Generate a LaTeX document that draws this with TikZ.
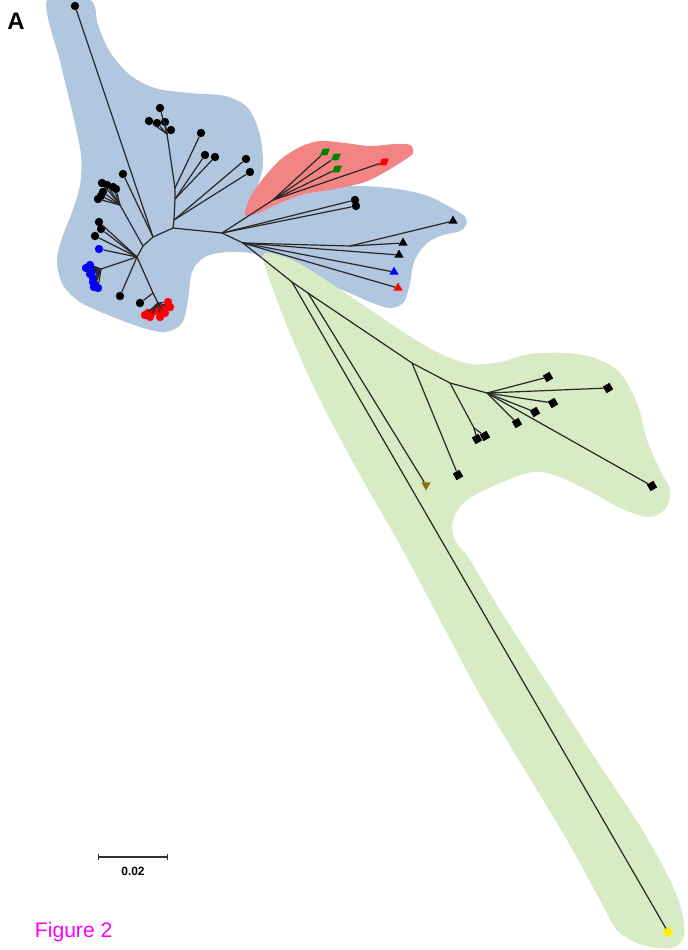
\documentclass[tikz,border=0pt]{standalone}
\usepackage{fontspec}
\setmainfont{Liberation Sans}
\usetikzlibrary{positioning, arrows.meta, shapes.geometric}
\definecolor{hullblue}{RGB}{177,198,223}
\definecolor{hullred}{RGB}{243,132,132}
\definecolor{hullgreen}{RGB}{215,235,196}
\definecolor{leafgreen}{RGB}{0,130,0}
\definecolor{leafolive}{RGB}{130,120,0}
\definecolor{leafyellow}{RGB}{255,240,0}
\definecolor{figmagenta}{RGB}{250,0,250}
\tikzset{
    branch/.style={line width=0.85pt, color=black!85},
    leafdot/.style={circle, fill=#1, inner sep=0pt, minimum size=0.21cm},
    leafdot/.default=black,
    leaftri/.style={regular polygon, regular polygon sides=3, fill=#1, inner sep=0pt, minimum size=0.27cm},
    leaftri/.default=black,
    leafsq/.style={rectangle, fill=#1, inner sep=0pt, minimum size=0.19cm, rotate=30},
    leafsq/.default=black,
    leafdia/.style={diamond, fill=#1, inner sep=0pt, minimum width=0.31cm, minimum height=0.2cm, rotate=35},
    hub/.style={coordinate},
    scalebar/.style={{Bar[width=4pt]}-{Bar[width=4pt]}, line width=0.8pt, color=black!80}
}

\begin{document}
\begin{tikzpicture}[x=0.025cm, y=-0.025cm]
    \useasboundingbox (0,0) rectangle (688,950);

    % clade hulls
    \fill[hullblue] plot[smooth cycle, tension=0.55] coordinates {
        (47,0) (90,0) (98,25) (110,52) (130,75) (155,88) (190,93) (225,96)
        (248,108) (260,135) (263,165) (260,192) (300,190) (350,186) (390,188)
        (425,195) (450,207) (466,218) (462,230) (440,236) (425,245) (414,262)
        (410,283) (404,302) (390,308) (370,302) (345,291) (315,280) (283,267)
        (255,254) (228,252) (205,257) (192,272) (188,300) (182,323) (165,332)
        (140,327) (108,315) (80,302) (63,285) (57,262) (62,238) (72,212)
        (80,185) (81,155) (73,115) (61,65)};
    \fill[hullred] plot[smooth cycle, tension=0.55] coordinates {
        (245,215) (250,198) (262,180) (280,160) (300,147) (320,141) (345,143)
        (370,146) (395,144) (410,145) (413,153) (403,161) (385,172) (365,182)
        (335,189) (305,194) (280,203) (258,213)};
    \fill[hullgreen] plot[smooth cycle, tension=0.55] coordinates {
        (263,257) (274,254) (300,264) (350,296) (400,330) (437,352) (470,364)
        (500,362) (530,354) (565,353) (595,358) (620,373) (637,403) (647,440)
        (660,470) (670,490) (666,508) (650,517) (625,510) (593,493) (560,477)
        (533,472) (500,483) (467,500) (453,520) (455,540) (470,560) (500,610)
        (547,683) (593,755) (640,826) (670,880) (682,912) (684,935) (675,947)
        (658,948) (637,943) (617,930) (600,900) (567,840) (523,767) (480,695)
        (440,620) (400,545) (360,475) (320,400) (295,345) (275,295)};

    % inner nodes
    \node[hub] (h1) at (137,257) {};
    \node[hub] (h1a) at (143,246) {};
    \node[hub] (h2) at (153,237) {};
    \node[hub] (h3) at (173,228) {};
    \node[hub] (h4) at (222,233) {};
    \node[hub] (j1) at (174,220) {};
    \node[hub] (u2) at (175,199) {};
    \node[hub] (u3) at (175,188) {};
    \node[hub] (u4) at (167,134) {};
    \node[hub] (c1) at (120,205) {};
    \node[hub] (b1) at (101,269) {};
    \node[hub] (r0) at (153,293) {};
    \node[hub] (r1) at (158,303) {};
    \node[hub] (rc) at (273,200) {};
    \node[hub] (R1) at (243,243) {};
    \node[hub] (R2) at (350,246) {};
    \node[hub] (G1) at (292,282) {};
    \node[hub] (G2) at (308,293) {};
    \node[hub] (G3) at (412,363) {};
    \node[hub] (G4) at (450,383) {};
    \node[hub] (G4b) at (474,428) {};
    \node[hub] (G5) at (487,393) {};

    % leaves, blue clade
    \node[leafdot] (tl) at (75,6) {};
    \node[leafdot] (ua) at (160,108) {};
    \node[leafdot] (ub) at (149,121) {};
    \node[leafdot] (uc) at (157,123) {};
    \node[leafdot] (ud) at (165,122) {};
    \node[leafdot] (ue) at (171,130) {};
    \node[leafdot] (uf) at (201,133) {};
    \node[leafdot] (ug) at (205,155) {};
    \node[leafdot] (uh) at (215,157) {};
    \node[leafdot] (ui) at (246,159) {};
    \node[leafdot] (uj) at (250,172) {};
    \node[leafdot] (sa) at (123,174) {};
    \foreach \x/\y [count=\i] in {102/183, 107/185, 113/187, 116/189, 103/192, 101/196, 98/199}
        \node[leafdot] (k\i) at (\x,\y) {};
    \node[leafdot] (la) at (99,222) {};
    \node[leafdot] (lb) at (101,229) {};
    \node[leafdot] (lc) at (95,236) {};
    \node[leafdot=blue] (lblue) at (99,249) {};
    \node[leafdot] (ld) at (120,296) {};
    \node[leafdot] (le) at (140,303) {};
    \foreach \x/\y [count=\i] in {86/268, 90/265, 94/270, 90/274, 93/278, 93/282, 95/285, 98/288, 94/287}
        \node[leafdot=blue] (bc\i) at (\x,\y) {};
    \foreach \x/\y [count=\i] in {148/313, 153/312, 158/310, 163/308, 168/302, 170/307, 165/313, 160/317, 150/317, 145/315}
        \node[leafdot=red] (rd\i) at (\x,\y) {};
    \node[leafdot] (dd1) at (355,200) {};
    \node[leafdot] (dd2) at (356,206) {};
    \node[leaftri] (t1) at (453,221) {};
    \node[leaftri] (t2) at (403,243) {};
    \node[leaftri] (t3) at (399,255) {};
    \node[leaftri=blue] (tb) at (394,272) {};
    \node[leaftri=red] (tr) at (398,288) {};

    % leaves, red clade
    \node[leafdia=leafgreen] (ga) at (325,152) {};
    \node[leafdia=leafgreen] (gb) at (336,157) {};
    \node[leafdia=leafgreen] (gc) at (337,169) {};
    \node[leafdia=red] (rd) at (384,162) {};

    % leaves, green clade
    \node[leafsq=leafyellow] (ye) at (668,932) {};
    \node[leaftri=leafolive, shape border rotate=180] (ol) at (426,485) {};
    \node[leafsq] (s1) at (458,475) {};
    \node[leafsq] (s2) at (477,439) {};
    \node[leafsq] (s3) at (485,436) {};
    \node[leafsq] (s4) at (548,377) {};
    \node[leafsq] (s5) at (608,388) {};
    \node[leafsq] (s6) at (553,403) {};
    \node[leafsq] (s7) at (535,412) {};
    \node[leafsq] (s8) at (517,423) {};
    \node[leafsq] (s9) at (652,486) {};

    % backbone
    \draw[branch] (h1) -- (h1a) -- (h2) -- (h3) -- (h4);
    \draw[branch] (h2) -- (tl);
    \draw[branch] (h2) -- (sa);
    \draw[branch] (h1a) -- (c1);
    \foreach \i in {1,...,7} \draw[branch] (c1) -- (k\i);
    \draw[branch] (h3) -- (j1) -- (u2) -- (u3) -- (u4);
    \draw[branch] (j1) -- (ui);
    \draw[branch] (j1) -- (uj);
    \draw[branch] (u2) -- (ug);
    \draw[branch] (u2) -- (uh);
    \draw[branch] (u3) -- (uf);
    \foreach \n in {ua,ub,uc,ud,ue} \draw[branch] (u4) -- (\n);
    \foreach \n in {la,lb,lc,lblue,ld} \draw[branch] (h1) -- (\n);
    \draw[branch] (h1) -- (b1);
    \foreach \i in {1,...,9} \draw[branch] (b1) -- (bc\i);
    \draw[branch] (h1) -- (r0) -- (r1);
    \draw[branch] (r0) -- (le);
    \foreach \i in {1,...,10} \draw[branch] (r1) -- (rd\i);

    % right side
    \draw[branch] (h4) -- (rc);
    \foreach \n in {ga,gb,gc,rd} \draw[branch] (rc) -- (\n);
    \draw[branch] (h4) -- (dd1);
    \draw[branch] (h4) -- (dd2);
    \draw[branch] (h4) -- (R1) -- (R2);
    \draw[branch] (R2) -- (t1);
    \draw[branch] (R2) -- (t2);
    \foreach \n in {t3,tb,tr} \draw[branch] (R1) -- (\n);
    \draw[branch] (R1) -- (G1) -- (G2) -- (G3) -- (G4) -- (G5);
    \draw[branch] (G1) -- (ye);
    \draw[branch] (G2) -- (ol);
    \draw[branch] (G3) -- (s1);
    \draw[branch] (G4) -- (G4b);
    \draw[branch] (G4b) -- (s2);
    \draw[branch] (G4b) -- (s3);
    \foreach \n in {s4,s5,s6,s7,s8,s9} \draw[branch] (G5) -- (\n);

    % labels and scale
    \node[font=\bfseries\fontsize{17}{20}\selectfont] (lblA) at (16,21) {A};
    \coordinate (sb1) at (98,857);
    \coordinate (sb2) at (168,857);
    \draw[scalebar] (sb1) -- (sb2);
    \node[font=\bfseries\fontsize{8.5}{10}\selectfont] (lblscale) at (133,871) {0.02};
    \node[font=\fontsize{15}{18}\selectfont, text=figmagenta, anchor=west] (lblfig) at (30,932) {Figure 2};
\end{tikzpicture}
\end{document}
